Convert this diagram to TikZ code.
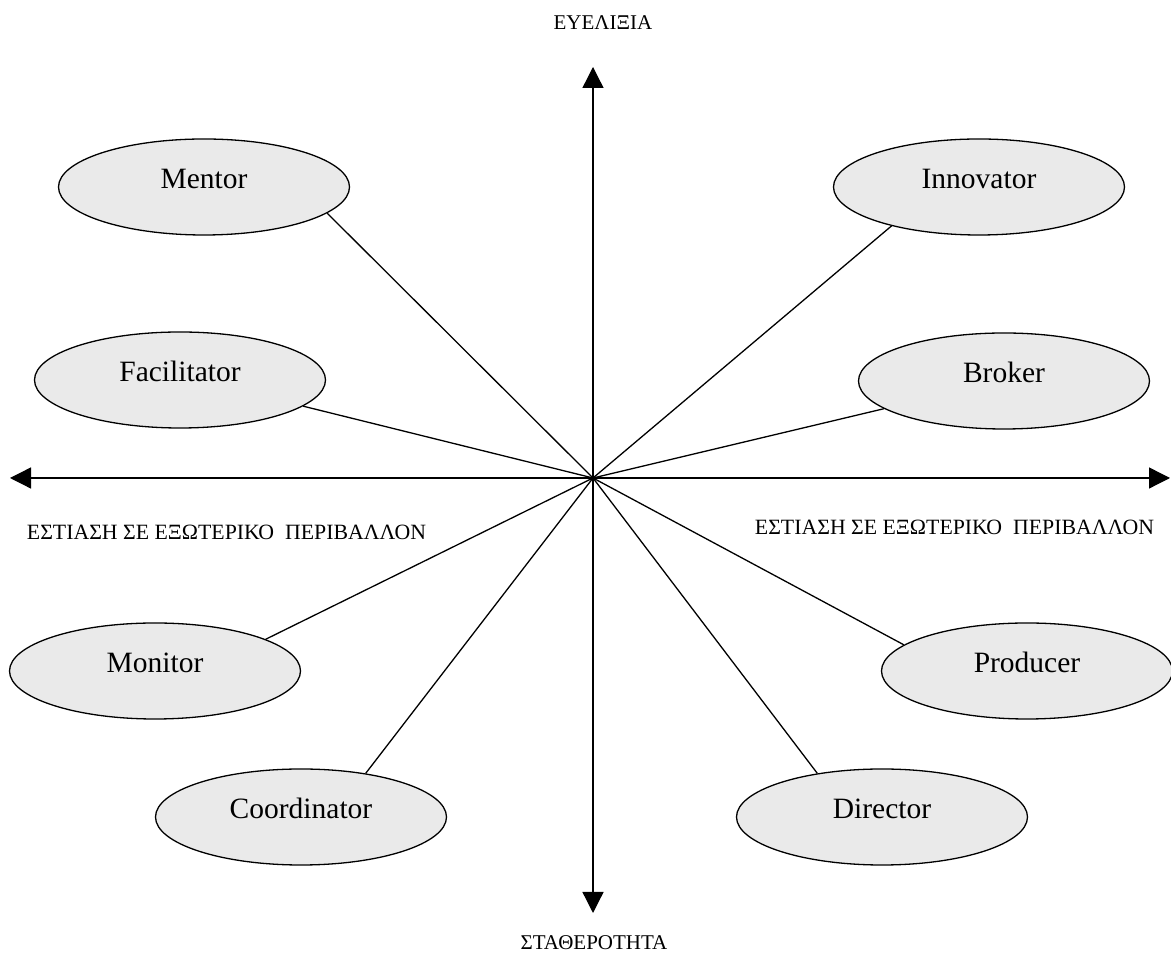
\documentclass[tikz,border=0pt]{standalone}
\usepackage{fontspec}
\setmainfont{Liberation Serif}
\usetikzlibrary{arrows.meta,shapes.geometric}
\definecolor{ellfill}{RGB}{234,234,234}
\begin{document}
\begin{tikzpicture}[x=1pt,y=1pt,
  role/.style={ellipse, draw=black, line width=1.3pt, fill=ellfill,
    minimum width=291pt, minimum height=96pt, inner sep=0pt,
    text height=20pt, text depth=16.5pt,
    font=\fontsize{29.5}{32}\selectfont},
  axislabel/.style={anchor=base, inner sep=0pt, font=\fontsize{21}{24}\selectfont},
  sidelabel/.style={axislabel, font=\fontsize{21.8}{24}\selectfont},
  axis/.style={line width=1.3pt, -{Triangle[length=21pt,width=21pt]}},
  spoke/.style={line width=1.3pt}]
\useasboundingbox (0,0) rectangle (1171,953);
\fill[white] (0,0) rectangle (1171,953);
% hub and axis ends
\coordinate (hub) at (593,475);
\coordinate (topend) at (593,886);
\coordinate (botend) at (593,40);
\coordinate (leftend) at (10,475);
\coordinate (rightend) at (1170,475);
% role ellipses
\node[role] (mentor) at (204,766) {Mentor};
\node[role] (innovator) at (979,766) {Innovator};
\node[role] (facilitator) at (180,573) {Facilitator};
\node[role] (broker) at (1004,572) {Broker};
\node[role] (monitor) at (155,282) {Monitor};
\node[role] (producer) at (1027,282) {Producer};
\node[role] (coordinator) at (301,136) {Coordinator};
\node[role] (director) at (882,136) {Director};
% axes
\draw[axis] (hub) -- (topend);
\draw[axis] (hub) -- (botend);
\draw[axis] (hub) -- (leftend);
\draw[axis] (hub) -- (rightend);
% spokes
\draw[spoke] (hub) -- (mentor.-12);
\draw[spoke] (hub) -- (innovator.-156);
\draw[spoke] (hub) -- (facilitator.-12);
\draw[spoke] (hub) -- (broker.193);
\draw[spoke] (hub) -- (monitor.16);
\draw[spoke] (hub) -- (producer.168);
\draw[spoke] (hub) -- (coordinator.34);
\draw[spoke] (hub) -- (director.146);
% axis labels
\node[axislabel] (flex) at (603,923) {ΕΥΕΛΙΞΙΑ};
\node[axislabel] (stab) at (594,3) {ΣΤΑΘΕΡΟΤΗΤΑ};
\node[sidelabel] (extl) at (226.5,413) {ΕΣΤΙΑΣΗ ΣΕ ΕΞΩΤΕΡΙΚΟ\ \ ΠΕΡΙΒΑΛΛΟΝ};
\node[sidelabel] (extr) at (954.5,418) {ΕΣΤΙΑΣΗ ΣΕ ΕΞΩΤΕΡΙΚΟ\ \ ΠΕΡΙΒΑΛΛΟΝ};
\end{tikzpicture}
\end{document}
